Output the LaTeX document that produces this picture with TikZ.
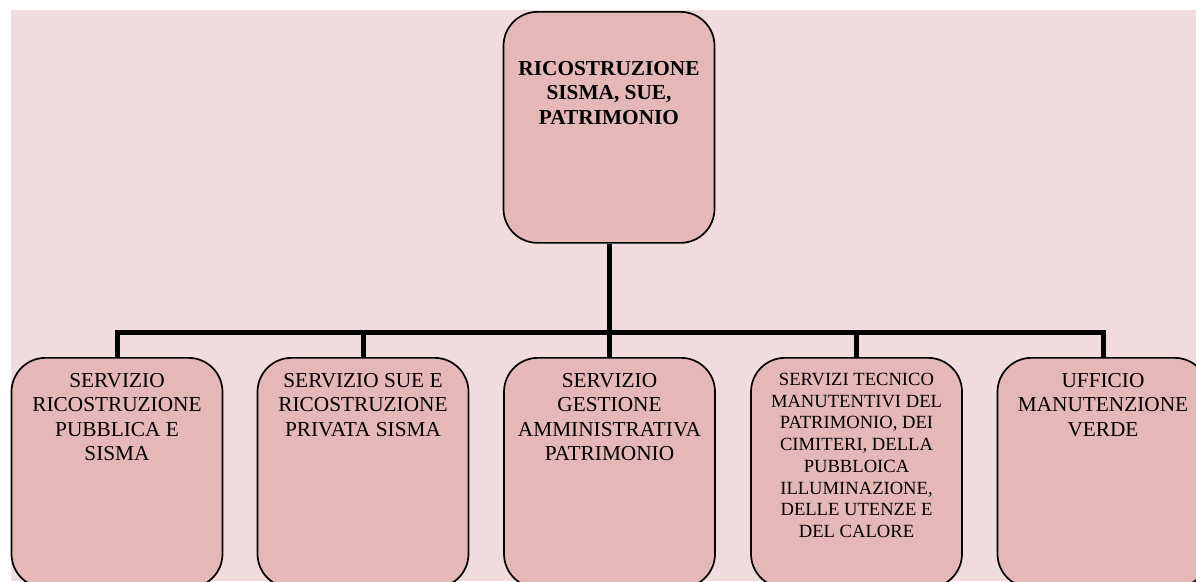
\documentclass[tikz,border=0pt]{standalone}
\usepackage{fontspec}
\setmainfont{Liberation Serif}
\definecolor{bgpink}{HTML}{F0DCDC}
\definecolor{boxpink}{HTML}{E5B7B7}
\begin{document}
\begin{tikzpicture}[x=1pt,y=-1pt,
  orgbox/.style={draw=black, line width=1.7pt, fill=boxpink, rounded corners=34pt,
    minimum width=211pt, inner sep=0pt, anchor=north},
  boxtext/.style={anchor=north, align=center, inner sep=0pt,
    font=\fontsize{21.3}{24.5}\selectfont},
  smalltext/.style={anchor=north, align=center, inner sep=0pt,
    font=\fontsize{18.6}{21.7}\selectfont},
  conn/.style={line width=5pt, line join=miter, line cap=butt}]
\useasboundingbox (0,0) rectangle (1196,581);
\clip (0,0) rectangle (1196,581);
\fill[bgpink] (11,10) rectangle (1196,581);
% top box
\node[orgbox, minimum height=231pt] (top) at (609,11) {};
\node[boxtext, font=\bfseries\fontsize{21.3}{24.5}\selectfont] (toptxt) at (609,61)
  {RICOSTRUZIONE\\SISMA, SUE,\\PATRIMONIO};
% children
\node[orgbox, minimum height=230pt] (c1) at (117,357) {};
\node[orgbox, minimum height=230pt] (c2) at (363,357) {};
\node[orgbox, minimum height=230pt] (c3) at (609.5,357) {};
\node[orgbox, minimum height=230pt] (c4) at (856.5,357) {};
\node[orgbox, minimum height=230pt] (c5) at (1103,357) {};
\node[boxtext] (t1) at (117,373) {SERVIZIO\\RICOSTRUZIONE\\PUBBLICA E\\SISMA};
\node[boxtext] (t2) at (363,373) {SERVIZIO SUE E\\RICOSTRUZIONE\\PRIVATA SISMA};
\node[boxtext] (t3) at (609.5,373) {SERVIZIO\\GESTIONE\\AMMINISTRATIVA\\PATRIMONIO};
\node[smalltext] (t4) at (856.5,373) {SERVIZI TECNICO\\MANUTENTIVI DEL\\PATRIMONIO, DEI\\CIMITERI, DELLA\\PUBBLOICA\\ILLUMINAZIONE,\\DELLE UTENZE E\\DEL CALORE};
\node[boxtext] (t5) at (1103,373) {UFFICIO\\MANUTENZIONE\\VERDE};
% connectors
\coordinate (bar) at (609.5,332);
\draw[conn] (top.south -| bar) -- (bar);
\foreach \c in {c1,c2,c3,c4,c5}
  \draw[conn] (bar) -| (\c.north);
\end{tikzpicture}
\end{document}
